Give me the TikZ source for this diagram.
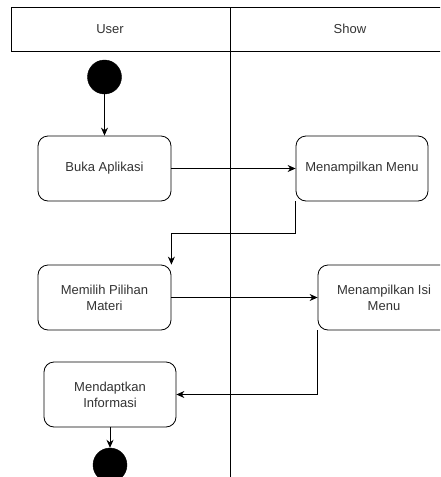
\documentclass[tikz,border=0pt]{standalone}
\usepackage{fontspec}
\setmainfont{Liberation Sans}
\usetikzlibrary{arrows.meta}
\definecolor{txt}{HTML}{333333}
\tikzset{
  act/.style={draw=black, line width=0.8pt, rounded corners=10pt, text=txt, align=center,
    font=\fontsize{13}{16}\selectfont, minimum height=65pt, inner sep=2pt},
  dot/.style={circle, fill=black, draw=black, minimum size=34pt, inner sep=0pt},
  arr/.style={line width=0.8pt, -{Stealth[length=8pt,width=7pt]}},
  lane/.style={line width=1pt},
  hdr/.style={text=txt, font=\fontsize{13}{16}\selectfont}
}
\begin{document}
\begin{tikzpicture}[x=1pt,y=-1pt]
\useasboundingbox (0,0) rectangle (440,477);
\clip (0,0) rectangle (440,477);
\fill[white] (0,0) rectangle (440,477);
% lanes
\draw[lane] (460,51) -- (11,51) -- (11,7) -- (460,7);
\draw[lane] (230,7) -- (230,480);
\node[hdr] (hu) at (110,29) {User};
\node[hdr] (hs) at (350,29) {Show};
% nodes
\node[dot] (start) at (104.5,77) {};
\node[act, minimum width=133pt] (buka) at (104.5,168.5) {Buka Aplikasi};
\node[act, minimum width=132pt] (menu) at (362,168.5) {Menampilkan Menu};
\node[act, minimum width=133pt] (pilih) at (104.5,297.5) {Memilih Pilihan\\Materi};
\node[act, minimum width=132pt] (isi) at (384,297.5) {Menampilkan Isi\\Menu};
\node[act, minimum width=132pt] (info) at (110,394.5) {Mendaptkan\\Informasi};
\node[dot] (end) at (110,465) {};
% connectors
\draw[arr] (start) -- (buka.north);
\draw[arr] (buka.east) -- (menu.west);
\draw[arr] (menu.south west) -- ++(0,32) -| (pilih.north east);
\draw[arr] (pilih.east) -- (isi.west);
\draw[arr] (isi.south west) |- (info.east);
\draw[arr] (info.south) -- (end.north);
\end{tikzpicture}
\end{document}
